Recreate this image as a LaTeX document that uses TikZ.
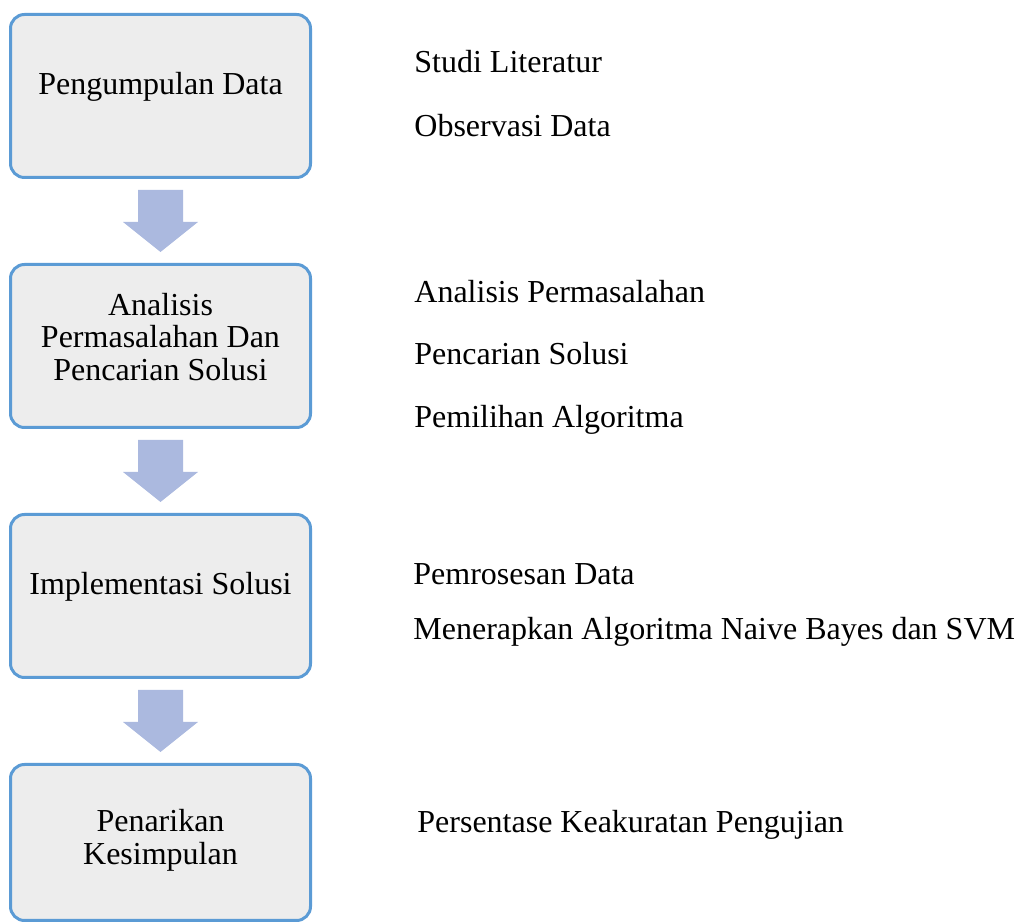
\documentclass[tikz,border=0pt]{standalone}
\usepackage{fontspec}
\setmainfont{Liberation Serif}
\usetikzlibrary{calc}
\definecolor{stageline}{HTML}{5B9BD5}
\definecolor{stagefill}{HTML}{EDEDED}
\definecolor{arrowfill}{HTML}{ABB9DF}
\tikzset{
  stage/.style={draw=stageline, fill=stagefill, line width=1.5pt, rounded corners=7pt,
    minimum width=150pt, minimum height=81.5pt},
  item/.style={anchor=base west, inner sep=0pt},
  caption/.style={align=center, inner sep=0pt}
}
\begin{document}
\begin{tikzpicture}[x=0.5pt, y=-0.5pt, font=\fontsize{16}{16.4}\selectfont]
\useasboundingbox (0,0) rectangle (1024,924);
% stages
\node[stage] (b1) at (160.5,96) {};
\node[stage] (b2) at (160.5,346) {};
\node[stage] (b3) at (160.5,596) {};
\node[stage, minimum height=78pt] (b4) at (160.5,842.5) {};
\node[caption, anchor=base] (t1) at (160.5,95) {Pengumpulan Data};
\node[caption] (t2) at (160.5,337) {Analisis\\Permasalahan Dan\\Pencarian Solusi};
\node[caption] (t4) at (160.5,840) {Penarikan\\Kesimpulan};
\node[caption, anchor=base] (t3) at (160.5,595) {Implementasi Solusi};
% arrows between stages
\foreach \a/\b in {b1/b2, b2/b3, b3/b4}
  \fill[arrowfill] ($(\a.south)+(-22.5,11)$) -- ($(\a.south)+(22.5,11)$)
    -- ($(\a.south)+(22.5,43)$) -- ($(\a.south)+(37.5,43)$)
    -- ($(\b.north)+(0,-11)$) -- ($(\a.south)+(-37.5,43)$)
    -- ($(\a.south)+(-22.5,43)$) -- cycle;
% activities
\node[item] (s1) at (414,73) {Studi Literatur};
\node[item] (s2) at (414,137) {Observasi Data};
\node[item] (s3) at (414,303) {Analisis Permasalahan};
\node[item] (s4) at (414,365) {Pencarian Solusi};
\node[item] (s5) at (414,428) {Pemilihan Algoritma};
\node[item] (s6) at (413,585) {Pemrosesan Data};
\node[item] (s7) at (413,640) {Menerapkan Algoritma Naive Bayes dan SVM};
\node[item] (s8) at (417,833) {Persentase Keakuratan Pengujian};
\end{tikzpicture}
\end{document}
